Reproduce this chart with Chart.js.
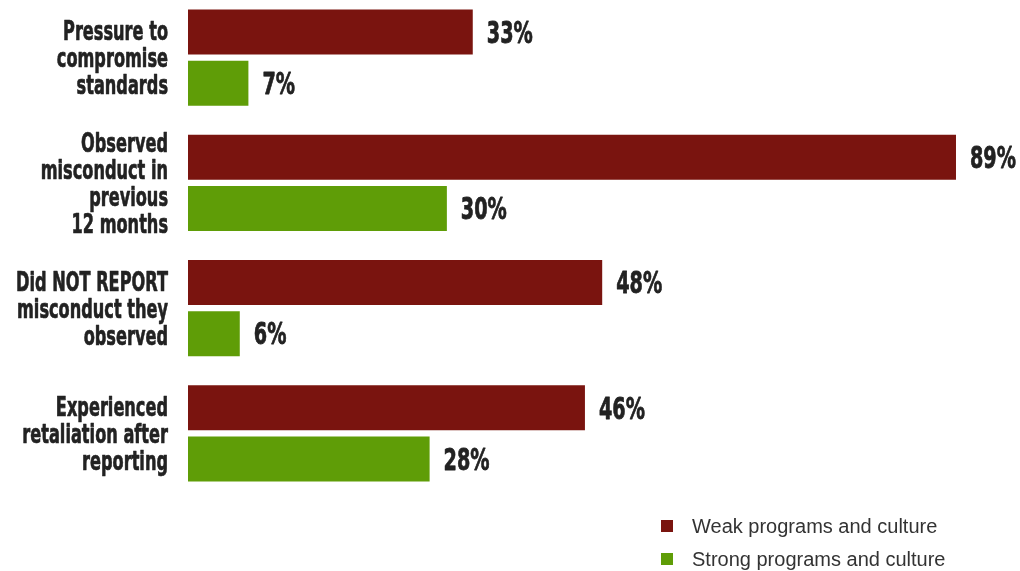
<!DOCTYPE html>
<html>
<head>
<meta charset="utf-8">
<script src="https://cdn.jsdelivr.net/npm/chart.js@4/dist/chart.umd.min.js"></script>
<style>
  html, body { margin: 0; padding: 0; background: #ffffff; overflow: hidden; }
  #wrap { position: absolute; left: 0; top: -5px; width: 1020px; height: 576px; }
</style>
</head>
<body>
<div id="wrap"><canvas id="c" width="1020" height="576"></canvas></div>
<script>
// Survey outcomes by strength of ethics programs and culture (percent of employees)
const categories = [
  ['Pressure to', 'compromise', 'standards'],
  ['Observed', 'misconduct in', 'previous', '12 months'],
  ['Did NOT REPORT', 'misconduct they', 'observed'],
  ['Experienced', 'retaliation after', 'reporting']
];
const seriesNames = ['Weak programs and culture', 'Strong programs and culture'];
const weakValues = [33, 89, 48, 46];
const strongValues = [7, 30, 6, 28];
const seriesColors = ['#7a140f', '#5f9d07'];

// Heavy, condensed headline face: a bold weight squeezed horizontally
const headFamily = '"DejaVu Sans", sans-serif';
const labelFont = 'bold 26px ' + headFamily;
const valueFont = 'bold 30px ' + headFamily;
const labelCap = 19, valueCap = 21.6, lineGap = 27;
const inkColor = '#222222';

function squeeze(ctx, font, sample, targetWidth) {
  ctx.font = font;
  return targetWidth / ctx.measureText(sample).width;
}

// Fill plus a thin outline of the same ink for a blacker weight
function heavyText(ctx, text, x, y, sx) {
  ctx.save();
  ctx.scale(sx, 1);
  ctx.fillText(text, x / sx, y);
  ctx.strokeText(text, x / sx, y);
  ctx.restore();
}

// Category names to the left of each bar pair
const categoryLabels = {
  id: 'categoryLabels',
  afterDraw(chart) {
    const ctx = chart.ctx;
    const yScale = chart.scales.y;
    const right = chart.chartArea.left - 20;
    ctx.save();
    const sx = squeeze(ctx, labelFont, 'misconduct they', 151);
    ctx.fillStyle = inkColor;
    ctx.strokeStyle = inkColor;
    ctx.lineWidth = 0.7;
    ctx.lineJoin = 'round';
    ctx.textAlign = 'right';
    ctx.textBaseline = 'alphabetic';
    chart.data.labels.forEach((lines, i) => {
      const c = yScale.getPixelForValue(i);
      const first = c - (lines.length - 1) * lineGap / 2 + labelCap / 2;
      lines.forEach((t, k) => heavyText(ctx, t, right, first + k * lineGap, sx));
    });
    ctx.restore();
  }
};

// Percent labels at the end of each bar
const valueLabels = {
  id: 'valueLabels',
  afterDatasetsDraw(chart) {
    const ctx = chart.ctx;
    ctx.save();
    const sx = squeeze(ctx, valueFont, '33%', 46);
    ctx.fillStyle = inkColor;
    ctx.strokeStyle = inkColor;
    ctx.lineWidth = 0.8;
    ctx.lineJoin = 'round';
    ctx.textAlign = 'left';
    ctx.textBaseline = 'alphabetic';
    chart.data.datasets.forEach((ds, di) => {
      chart.getDatasetMeta(di).data.forEach((bar, i) => {
        heavyText(ctx, ds.data[i] + '%', bar.x + 14, bar.y + valueCap / 2, sx);
      });
    });
    ctx.restore();
  }
};

// Stacked legend in the lower right corner
const cornerLegend = {
  id: 'cornerLegend',
  afterDraw(chart) {
    const ctx = chart.ctx;
    ctx.save();
    ctx.font = '20px "Liberation Sans", Arial, sans-serif';
    ctx.textBaseline = 'middle';
    ctx.textAlign = 'left';
    chart.data.datasets.forEach((ds, i) => {
      const y = 531 + i * 33;
      ctx.fillStyle = ds.backgroundColor;
      ctx.fillRect(661, y - 6, 12, 12);
      ctx.fillStyle = '#333333';
      ctx.fillText(ds.label, 692, y + 1);
    });
    ctx.restore();
  }
};

new Chart(document.getElementById('c'), {
  type: 'bar',
  data: {
    labels: categories,
    datasets: [
      { label: seriesNames[0], data: weakValues, backgroundColor: seriesColors[0] },
      { label: seriesNames[1], data: strongValues, backgroundColor: seriesColors[1] }
    ]
  },
  options: {
    indexAxis: 'y',
    responsive: false,
    animation: false,
    devicePixelRatio: 1,
    layout: { padding: { left: 0, right: 20, top: 0, bottom: 75 } },
    datasets: { bar: { categoryPercentage: 0.816, barPercentage: 0.88 } },
    scales: {
      x: { display: false, min: 0, max: 94.1 },
      y: {
        grid: { display: false },
        border: { display: false },
        ticks: { display: false },
        afterFit(scale) { scale.width = 188; }
      }
    },
    plugins: { legend: { display: false }, tooltip: { enabled: false } }
  },
  plugins: [categoryLabels, valueLabels, cornerLegend]
});
</script>
</body>
</html>
